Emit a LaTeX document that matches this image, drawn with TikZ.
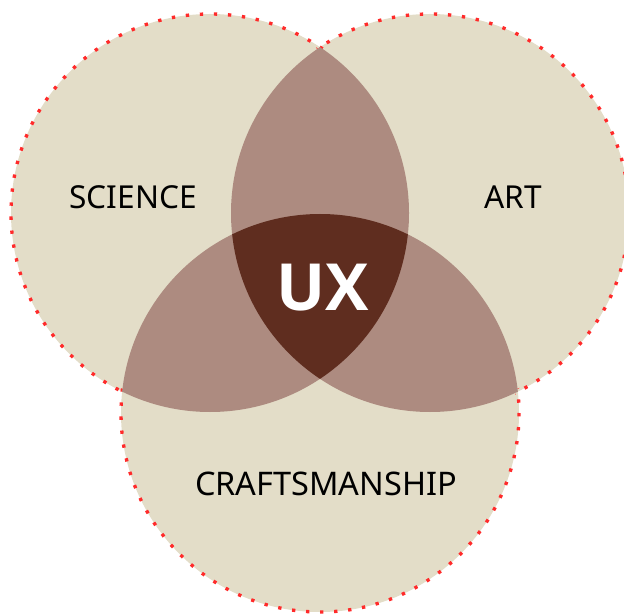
\documentclass[tikz,border=0pt]{standalone}
\usepackage{fontspec}
\setmainfont{Noto Sans}
\newfontfamily\uxfont{Open Sans}
\usepackage{tikz}
\usetikzlibrary{positioning}

\definecolor{sand}{HTML}{E3DDC8}
\definecolor{lens}{HTML}{AD8B80}
\definecolor{core}{HTML}{5F2D1F}
\definecolor{dotred}{HTML}{FF2A2A}

\begin{document}
\begin{tikzpicture}[
  x=0.02cm, y=-0.02cm,
  disc/.style={fill=sand},
  rim/.style={draw=dotred, line width=1.9pt, dash pattern=on 1.9pt off 6.1pt},
  lbl/.style={font=\fontsize{18}{20}\selectfont, text=black},
  uxlbl/.style={font=\uxfont\bfseries\fontsize{37}{40}\selectfont, text=white},
]
\useasboundingbox (0,0) rectangle (624,614);

% Circle centres
\coordinate (sci) at (210,213);
\coordinate (art) at (430,213);
\coordinate (craft) at (320,413);
\def\rad{199}

% Discs and dotted rims
\foreach \c in {sci,art,craft} \fill[disc] (\c) circle (\rad);
\foreach \c in {sci,art,craft} \draw[rim] (\c) circle (\rad);
\foreach \c in {sci,art,craft} \fill[disc] (\c) circle (\rad-3);

% Pairwise overlaps
\begin{scope}
  \clip (sci) circle (\rad);
  \fill[lens] (art) circle (\rad);
  \fill[lens] (craft) circle (\rad);
\end{scope}
\begin{scope}
  \clip (art) circle (\rad);
  \fill[lens] (craft) circle (\rad);
\end{scope}

% Centre
\begin{scope}
  \clip (sci) circle (\rad);
  \clip (art) circle (\rad);
  \fill[core] (craft) circle (\rad);
\end{scope}

% Labels
\node[lbl] (science) at (133,197) {SCIENCE};
\node[lbl] (artlbl) at (513,197) {ART};
\node[lbl, font=\fontsize{18.5}{20}\selectfont] (craftlbl) at (326,484) {CRAFTSMANSHIP};
\node[uxlbl] (ux) at (323,288) {UX};
\end{tikzpicture}
\end{document}
